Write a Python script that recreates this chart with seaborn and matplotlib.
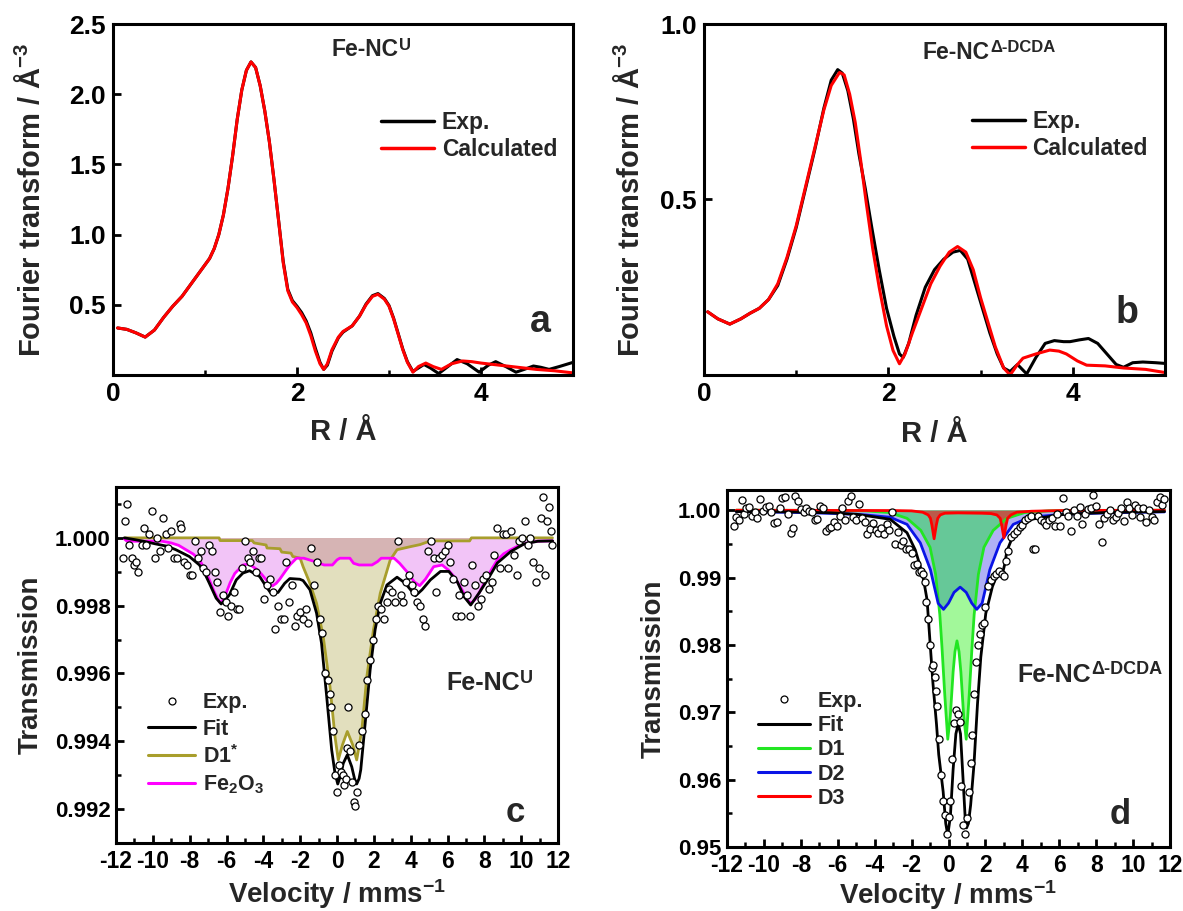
import matplotlib
matplotlib.use("Agg")
import matplotlib.pyplot as plt
import seaborn as sns
from matplotlib.lines import Line2D
from matplotlib.ticker import MultipleLocator, FixedLocator, FormatStrFormatter

# ---------------- Panel a (Fe-NC^U EXAFS) ----------------
ra_exp = [0.05,0.15,0.25,0.35,0.45,0.55,0.65,0.75,0.85,0.95,1.05,1.10,1.15,1.20,1.25,1.30,1.35,1.40,1.45,1.50,
          1.55,1.60,1.65,1.70,1.75,1.80,1.85,1.90,1.95,2.00,2.05,2.10,2.15,2.20,2.25,2.29,2.33,2.38,2.45,2.50,
          2.60,2.68,2.75,2.82,2.88,2.95,3.00,3.05,3.10,3.15,3.20,3.26,3.32,3.38,3.45,3.54,3.62,3.74,3.85,3.98,
          4.08,4.16,4.27,4.38,4.47,4.57,4.65,4.74,4.85,5.00]
fa_exp = [0.335,0.325,0.300,0.270,0.320,0.410,0.490,0.560,0.650,0.740,0.830,0.900,1.000,1.140,1.330,1.560,1.820,2.030,2.170,2.230,
          2.190,2.060,1.880,1.660,1.390,1.100,0.810,0.610,0.530,0.490,0.445,0.385,0.300,0.190,0.090,0.040,0.070,0.170,0.265,0.305,
          0.350,0.420,0.505,0.565,0.580,0.545,0.495,0.405,0.295,0.185,0.095,0.025,0.050,0.075,0.050,0.010,0.050,0.110,0.080,0.020,
          0.070,0.095,0.060,0.020,0.040,0.064,0.055,0.040,0.060,0.090]
ra_calc = [0.05,0.15,0.25,0.35,0.45,0.55,0.65,0.75,0.85,0.95,1.05,1.10,1.15,1.20,1.25,1.30,1.35,1.40,1.45,1.50,
           1.55,1.60,1.65,1.70,1.75,1.80,1.85,1.90,1.95,2.00,2.05,2.10,2.15,2.20,2.25,2.29,2.33,2.38,2.45,2.50,
           2.60,2.68,2.75,2.82,2.88,2.95,3.00,3.05,3.10,3.15,3.20,3.26,3.32,3.40,3.48,3.57,3.68,3.80,3.90,4.00,
           4.20,4.40,4.60,4.80,5.00]
fa_calc = [0.335,0.325,0.300,0.270,0.320,0.410,0.490,0.560,0.650,0.740,0.830,0.900,1.000,1.140,1.330,1.560,1.820,2.030,2.170,2.230,
           2.190,2.060,1.880,1.660,1.390,1.100,0.800,0.600,0.520,0.480,0.430,0.370,0.280,0.170,0.080,0.040,0.080,0.180,0.270,0.310,
           0.350,0.420,0.500,0.560,0.575,0.540,0.490,0.400,0.290,0.180,0.090,0.020,0.060,0.085,0.060,0.040,0.080,0.100,0.095,0.085,
           0.070,0.055,0.040,0.030,0.015]

# ---------------- Panel b (Fe-NC^Δ-DCDA EXAFS) ----------------
rb_exp = [0.04,0.15,0.28,0.40,0.50,0.60,0.70,0.80,0.90,1.00,1.10,1.20,1.30,1.38,1.45,1.50,1.56,1.62,1.68,1.75,
          1.82,1.90,1.98,2.06,2.12,2.16,2.22,2.30,2.40,2.50,2.60,2.70,2.78,2.86,2.94,3.02,3.10,3.18,3.25,3.32,
          3.40,3.50,3.60,3.70,3.80,3.90,3.97,4.07,4.17,4.27,4.37,4.47,4.55,4.65,4.76,4.90,5.00]
fb_exp = [0.180,0.160,0.145,0.160,0.176,0.190,0.215,0.255,0.330,0.420,0.530,0.640,0.760,0.840,0.870,0.860,0.810,0.730,0.630,0.530,
          0.420,0.300,0.190,0.110,0.060,0.050,0.090,0.170,0.250,0.300,0.330,0.350,0.355,0.330,0.260,0.190,0.120,0.060,0.020,0.010,
          0.030,0.003,0.050,0.090,0.098,0.095,0.095,0.100,0.104,0.090,0.060,0.030,0.022,0.035,0.037,0.035,0.033]
rb_calc = [0.04,0.15,0.28,0.40,0.50,0.60,0.70,0.80,0.90,1.00,1.10,1.20,1.30,1.38,1.47,1.52,1.58,1.64,1.70,1.76,
           1.83,1.90,1.98,2.05,2.12,2.18,2.26,2.36,2.46,2.56,2.66,2.75,2.84,2.92,3.00,3.08,3.16,3.25,3.32,3.40,
           3.46,3.60,3.75,3.85,3.93,4.05,4.15,4.35,4.55,4.79,5.00]
fb_calc = [0.180,0.160,0.145,0.160,0.176,0.190,0.215,0.260,0.335,0.425,0.535,0.645,0.755,0.825,0.862,0.855,0.800,0.720,0.610,0.490,
           0.360,0.250,0.140,0.070,0.032,0.060,0.120,0.190,0.260,0.310,0.350,0.366,0.350,0.300,0.220,0.150,0.080,0.020,0.000,0.030,
           0.048,0.060,0.071,0.068,0.060,0.040,0.028,0.026,0.020,0.016,0.007]

# ---------------- Panel c (Fe-NC^U Mossbauer) ----------------
vc_pts = [-11.6,-11.5,-11.4,-11.3,-11.15,-11.0,-10.9,-10.8,-10.6,-10.5,-10.35,-10.2,-10.05,-9.9,-9.75,-9.6,-9.45,-9.3,-9.15,-9.0,
          -8.85,-8.7,-8.55,-8.45,-8.3,-8.15,-8.0,-7.85,-7.7,-7.55,-7.4,-7.25,-7.1,-6.95,-6.8,-6.65,-6.5,-6.35,-6.2,-6.05,
          -5.9,-5.75,-5.6,-5.45,-5.3,-5.15,-5.0,-4.85,-4.7,-4.55,-4.4,-4.25,-4.1,-3.95,-3.8,-3.65,-3.5,-3.35,-3.2,-3.05,
          -2.9,-2.75,-2.6,-2.45,-2.3,-2.15,-2.0,-1.85,-1.7,-1.55,-1.4,-1.25,-1.1,-0.95,-0.8,-0.65,-0.5,-0.4,-0.3,-0.2,
          -0.1,0.0,0.1,0.2,0.3,0.4,0.5,0.55,0.6,0.7,0.8,0.9,1.0,1.1,1.2,1.35,1.5,1.65,1.8,1.95,
          2.1,2.25,2.4,2.55,2.7,2.85,3.0,3.15,3.3,3.45,3.6,3.75,3.9,4.05,4.2,4.35,4.5,4.65,4.8,4.95,
          5.1,5.25,5.4,5.55,5.7,5.85,6.0,6.15,6.3,6.45,6.6,6.75,6.9,7.05,7.2,7.35,7.5,7.65,7.8,7.95,
          8.1,8.25,8.4,8.55,8.7,8.85,9.0,9.15,9.3,9.45,9.6,9.75,9.9,10.05,10.2,10.35,10.5,10.65,10.8,10.95,
          11.1,11.2,11.3,11.4,11.5,11.6,11.7]
tc_pts = [0.99940,1.00050,1.00100,0.99980,0.99940,0.99920,0.99930,0.99900,0.99980,1.00030,0.99980,1.00010,1.00080,0.99940,1.00000,0.99960,1.00060,1.00010,0.99970,1.00020,
          0.99940,0.99940,1.00040,1.00030,0.99930,0.99920,0.99890,0.99890,0.99990,0.99940,0.99960,0.99910,0.99900,0.99980,0.99960,0.99900,0.99870,0.99780,0.99830,0.99810,
          0.99770,0.99800,0.99840,0.99790,0.99790,0.99910,0.99990,0.99940,0.99930,0.99960,0.99900,0.99940,0.99940,0.99820,0.99860,0.99880,0.99840,0.99730,0.99800,0.99760,
          0.99760,0.99930,0.99810,0.99860,0.99740,0.99770,0.99780,0.99760,0.99790,0.99750,0.99970,0.99860,0.99930,0.99760,0.99720,0.99600,0.99580,0.99540,0.99500,0.99430,
          0.99300,0.99250,0.99330,0.99310,0.99300,0.99270,0.99290,0.99380,0.99500,0.99370,0.99280,0.99220,0.99210,0.99250,0.99390,0.99430,0.99480,0.99580,0.99640,0.99700,
          0.99760,0.99800,0.99790,0.99760,0.99810,0.99850,0.99840,0.99810,0.99990,0.99830,0.99810,0.99870,0.99890,0.99860,0.99840,0.99810,0.99800,0.99760,0.99740,0.99960,
          0.99990,0.99940,0.99840,0.99940,0.99950,0.99960,0.99980,0.99930,0.99880,0.99770,0.99830,0.99770,0.99870,0.99830,0.99770,0.99920,0.99860,0.99800,0.99820,0.99880,
          0.99890,0.99850,0.99870,0.99950,1.00030,0.99910,1.00010,1.00010,0.99910,1.00020,0.99950,0.99890,0.99990,1.00000,1.00050,0.99980,1.00000,0.99930,0.99870,0.99910,
          1.00060,1.00120,0.99890,1.00050,1.00090,1.00020,0.99980]
vc_fit = [-11.55,-11.0,-10.5,-9.84,-9.2,-8.75,-8.02,-7.47,-7.2,-6.93,-6.56,-6.29,-6.05,-5.84,-5.47,-5.11,-4.75,-4.2,-3.84,-3.62,
          -3.2,-2.84,-2.56,-2.02,-1.84,-1.47,-1.11,-0.84,-0.56,-0.29,-0.11,0.04,0.2,0.34,0.56,0.8,0.95,1.07,1.2,1.29,
          1.53,1.8,2.07,2.35,2.71,3.26,3.71,4.26,4.62,5.07,5.62,6.07,6.53,6.89,7.26,7.71,8.17,8.71,9.44,10.16,
          10.9,11.71]
tc_fit = [1.0,0.99995,0.99990,0.99982,0.99975,0.99965,0.99945,0.99920,0.99897,0.99866,0.99822,0.99805,0.99818,0.99832,0.99876,0.99896,0.99903,0.99886,0.99856,0.99839,
          0.99839,0.99866,0.99880,0.99878,0.99874,0.99847,0.99778,0.99689,0.99532,0.99375,0.99306,0.99274,0.99300,0.99335,0.99360,0.99325,0.99290,0.99274,0.99290,0.99316,
          0.99453,0.99611,0.99729,0.99807,0.99861,0.99884,0.99866,0.99829,0.99847,0.99876,0.99901,0.99901,0.99871,0.99827,0.99802,0.99837,0.99876,0.99926,0.99960,0.99982,
          0.99990,0.99991]
vc_d1 = [-11.5,-6.4,-6.35,-4.6,-4.5,-3.85,-3.8,-3.1,-3.0,-2.5,-2.4,-2.0,-1.84,-1.5,-1.11,-0.75,-0.38,-0.11,0.07,0.3,
         0.56,0.85,1.07,1.35,1.62,1.98,2.35,2.89,3.26,3.98,4.5,5.07,7.2,7.3,11.7]
tc_d1 = [1.0,1.0,0.99992,0.99992,0.99985,0.99979,0.99970,0.99968,0.99958,0.99955,0.99945,0.99940,0.99915,0.99870,0.99807,0.99709,0.99561,0.99414,0.99345,0.99390,
         0.99429,0.99390,0.99345,0.99434,0.99591,0.99729,0.99837,0.99935,0.99965,0.99974,0.99980,0.99991,0.99991,1.0,1.0]
vc_fe = [-11.55,-11.4,-9.5,-9.0,-8.6,-8.2,-7.8,-7.47,-7.2,-6.93,-6.7,-6.5,-6.35,-6.2,-6.02,-5.8,-5.55,-5.11,-4.78,-4.38,
         -4.1,-3.84,-3.51,-3.3,-3.11,-2.8,-2.56,-2.2,-1.8,-1.2,-0.7,-0.25,0.0,0.15,0.7,0.9,1.2,1.9,2.2,2.4,
         3.1,3.4,3.8,4.2,4.49,4.8,5.25,5.71,6.05,6.35,6.65,6.89,7.1,7.29,7.5,7.71,7.95,8.17,8.45,8.71,
         9.05,9.44,9.8,10.16,10.5,10.9,11.71]
tc_fe = [0.99997,0.99990,0.99990,0.99985,0.99978,0.99965,0.99952,0.99935,0.99910,0.99876,0.99845,0.99822,0.99809,0.99815,0.99837,0.99868,0.99895,0.99920,0.99923,0.99908,
         0.99893,0.99876,0.99858,0.99866,0.99878,0.99902,0.99920,0.99940,0.99940,0.99930,0.99920,0.99920,0.99935,0.99940,0.99940,0.99925,0.99920,0.99920,0.99930,0.99940,
         0.99940,0.99925,0.99900,0.99870,0.99859,0.99878,0.99915,0.99920,0.99905,0.99886,0.99860,0.99837,0.99815,0.99807,0.99818,0.99837,0.99862,0.99886,0.99912,0.99935,
         0.99953,0.99965,0.99975,0.99982,0.99987,0.99990,0.99991]

# ---------------- Panel d (Fe-NC^Δ-DCDA Mossbauer) ----------------
vd_pts = [-11.6,-11.5,-11.35,-11.2,-11.1,-10.95,-10.8,-10.65,-10.5,-10.35,-10.2,-10.05,-9.9,-9.75,-9.6,-9.45,-9.3,-9.15,-9.0,-8.85,
          -8.7,-8.55,-8.45,-8.3,-8.15,-8.0,-7.85,-7.7,-7.55,-7.4,-7.25,-7.1,-6.95,-6.8,-6.65,-6.5,-6.35,-6.2,-6.05,-5.9,
          -5.75,-5.6,-5.45,-5.3,-5.15,-5.0,-4.85,-4.7,-4.55,-4.4,-4.25,-4.1,-3.95,-3.8,-3.65,-3.5,-3.35,-3.2,-3.05,-2.9,
          -2.75,-2.6,-2.45,-2.3,-2.15,-2.0,-1.85,-1.7,-1.6,-1.5,-1.4,-1.3,-1.2,-1.1,-1.0,-0.9,-0.85,-0.75,-0.7,-0.6,
          -0.5,-0.4,-0.3,-0.2,-0.1,0.0,0.1,0.2,0.3,0.4,0.5,0.6,0.7,0.8,0.9,1.0,1.1,1.2,1.3,1.4,
          1.5,1.6,1.7,1.8,1.9,2.0,2.15,2.3,2.45,2.6,2.75,2.9,3.0,3.1,3.25,3.4,3.55,3.7,3.85,4.0,
          4.15,4.3,4.45,4.6,4.7,4.85,5.0,5.15,5.3,5.45,5.6,5.75,5.9,6.05,6.2,6.35,6.5,6.65,6.8,6.95,
          7.1,7.25,7.4,7.55,7.7,7.85,8.0,8.15,8.3,8.45,8.6,8.75,8.9,9.05,9.2,9.35,9.5,9.65,9.8,9.95,
          10.1,10.25,10.4,10.55,10.7,10.85,11.0,11.15,11.3,11.45,11.55,11.65]
td_pts = [0.9977,0.9990,0.9985,1.0015,0.9995,1.0003,1.0005,0.9992,0.9998,0.9988,1.0016,0.9999,1.0005,1.0006,0.9998,0.9981,0.9982,1.0004,1.0018,1.0019,
          0.9994,0.9966,0.9973,1.0021,1.0013,1.0002,0.9997,1.0004,0.9999,0.9997,0.9985,0.9987,1.0006,1.0003,0.9969,0.9974,0.9975,0.9983,0.9977,0.9992,
          1.0004,0.9985,1.0013,1.0021,0.9990,0.9986,1.0009,0.9988,0.9983,0.9965,0.9972,0.9981,0.9970,0.9966,0.9974,0.9964,0.9979,0.9970,0.9998,0.9950,
          0.9967,0.9948,0.9955,0.9942,0.9943,0.9937,0.9918,0.9920,0.9908,0.9910,0.9905,0.9893,0.9863,0.9838,0.9800,0.9765,0.9770,0.9753,0.9732,0.9710,
          0.9660,0.9607,0.9569,0.9548,0.9520,0.9545,0.9569,0.9630,0.9684,0.9703,0.9697,0.9686,0.9591,0.9533,0.9520,0.9543,0.9581,0.9625,0.9667,0.9727,
          0.9775,0.9800,0.9816,0.9829,0.9833,0.9857,0.9887,0.9897,0.9903,0.9905,0.9910,0.9906,0.9903,0.9925,0.9939,0.9960,0.9965,0.9969,0.9975,0.9978,
          0.9985,0.9988,0.9991,0.9942,0.9943,0.9991,0.9985,0.9983,0.9978,0.9986,0.9988,0.9976,0.9995,0.9977,1.0018,0.9997,0.9991,0.9969,1.0001,0.9992,
          1.0005,0.9979,0.9995,1.0002,1.0004,1.0022,1.0006,0.9980,0.9953,0.9988,0.9995,1.0001,0.9985,0.9990,0.9996,1.0004,0.9984,1.0012,1.0004,0.9993,
          1.0008,1.0003,0.9990,1.0003,0.9982,1.0000,0.9990,0.9985,1.0012,1.0019,1.0008,1.0016]
vd_fit = [-11.5,-8.6,-6.5,-4.98,-3.16,-2.25,-1.8,-1.53,-1.35,-1.16,-1.02,-0.84,-0.65,-0.53,-0.29,-0.15,-0.04,0.1,0.25,0.4,
          0.53,0.65,0.78,0.9,0.98,1.08,1.2,1.38,1.57,1.75,2.02,2.38,2.75,2.93,3.05,3.16,3.56,4.47,6.3,8.5,11.7]
td_fit = [0.9998,0.99975,0.99962,0.9994,0.99865,0.99666,0.9941,0.99166,0.98967,0.98668,0.98118,0.97421,0.96822,0.96373,0.95823,0.9535,0.95175,0.9545,0.9615,0.9668,
          0.96831,0.9668,0.9605,0.9545,0.95284,0.9535,0.95624,0.96223,0.97121,0.97819,0.98468,0.98867,0.99117,0.99067,0.9920,0.99391,0.99666,0.99865,0.9994,0.99965,
          0.9998]
vd_d1 = [-11.5,-6.5,-4.5,-3.2,-2.25,-1.5,-1.0,-0.7,-0.47,-0.35,-0.2,-0.04,0.1,0.25,0.35,0.46,0.57,0.67,0.82,0.96,
         1.12,1.27,1.39,1.62,1.92,2.42,3.17,4.12,5.42,7.42,11.7]
td_d1 = [1.0,0.99997,0.9999,0.99965,0.9988,0.9970,0.9945,0.9905,0.9845,0.9795,0.9725,0.966,0.9695,0.976,0.979,0.9806,0.979,0.976,0.9695,0.966,
         0.9725,0.9795,0.9845,0.9905,0.9945,0.9970,0.9988,0.99965,0.9999,0.99997,1.0]
vd_d2 = [-11.5,-8.0,-6.0,-4.5,-3.16,-2.25,-1.53,-0.98,-0.56,-0.27,0.0,0.3,0.63,0.96,1.26,1.53,1.82,2.24,2.79,3.51,
         4.42,5.8,7.3,9.3,11.7]
td_d2 = [0.9998,0.99965,0.9995,0.9993,0.99895,0.9979,0.99516,0.99117,0.98618,0.98528,0.9862,0.9878,0.98858,0.9878,0.9862,0.98528,0.98618,0.99117,0.99516,0.9979,
         0.99895,0.9993,0.9995,0.99965,0.99975]
vd_d3 = [-11.5,-3.0,-2.0,-1.4,-1.1,-0.98,-0.9,-0.78,-0.66,-0.58,-0.45,-0.2,0.5,1.8,2.3,2.62,2.8,2.88,3.0,3.12,
         3.2,3.38,3.7,4.5,6.0,11.7]
td_d3 = [1.0,0.99995,0.9999,0.9997,0.9993,0.9988,0.9978,0.99576,0.9978,0.9988,0.9993,0.99955,0.9996,0.99955,0.9995,0.9993,0.9988,0.9978,0.9959,0.9978,
         0.9988,0.9993,0.9997,0.99985,0.99995,1.0]

# ---------------- styling ----------------
sns.set_theme(style="ticks")
plt.rcParams["font.family"] = ["Liberation Sans", "DejaVu Sans"]
plt.rcParams["font.weight"] = "bold"
plt.rcParams["axes.labelweight"] = "bold"
plt.rcParams["axes.unicode_minus"] = False
plt.rcParams["mathtext.fontset"] = "custom"
plt.rcParams["mathtext.rm"] = "Liberation Sans:bold"
plt.rcParams["mathtext.bf"] = "Liberation Sans:bold"
plt.rcParams["mathtext.it"] = "Liberation Sans:bold"
plt.rcParams["mathtext.default"] = "rm"

W, H = 1183, 911
fig = plt.figure(figsize=(W / 100, H / 100), dpi=100)


def add_ax(l, r, t, b):
    return fig.add_axes([l / W, 1 - b / H, (r - l) / W, (b - t) / H])


ax_a = add_ax(113, 573, 24, 375)
ax_b = add_ax(704, 1165, 24, 375)
ax_c = add_ax(116, 558, 487, 843)
ax_d = add_ax(727, 1170, 490, 847)


def style(ax, xfs, yfs, lab_fs):
    for s in ax.spines.values():
        s.set_linewidth(2.2)
        s.set_color("black")
    ax.tick_params(which="both", direction="in", top=False, right=False, colors="black")
    ax.tick_params(which="major", length=6, width=2, pad=5)
    ax.tick_params(which="minor", length=3.5, width=1.8)
    ax.tick_params(axis="x", labelsize=xfs)
    ax.tick_params(axis="y", labelsize=yfs)
    for lab in ax.get_xticklabels() + ax.get_yticklabels():
        lab.set_fontweight("bold")
    ax.xaxis.label.set_size(lab_fs)
    ax.yaxis.label.set_size(lab_fs)


def sup_text(ax, x, y, base, sup, fs, sfs):
    t = ax.text(x, y, base, transform=ax.transAxes, fontsize=fs, fontweight="bold",
                ha="left", va="center")
    ax.annotate(sup, xy=(1.0, 0.52), xycoords=t, fontsize=sfs, fontweight="bold",
                ha="left", va="baseline")


RED = "#FF0000"

# ----- panel a -----
sns.lineplot(x=ra_exp, y=fa_exp, ax=ax_a, color="black", lw=2.2, sort=False, estimator=None)
sns.lineplot(x=ra_calc, y=fa_calc, ax=ax_a, color=RED, lw=2.2, sort=False, estimator=None)
ax_a.set_xlim(0, 5)
ax_a.set_ylim(0, 2.5)
ax_a.xaxis.set_major_locator(FixedLocator([0, 2, 4]))
ax_a.xaxis.set_minor_locator(FixedLocator([1, 3]))
ax_a.yaxis.set_major_locator(FixedLocator([0.5, 1.0, 1.5, 2.0, 2.5]))
ax_a.set_xlabel("R / Å", labelpad=9)
ax_a.set_ylabel(r"Fourier transform / Å$^{-3}$", labelpad=17)
style(ax_a, 19, 19, 21)
sup_text(ax_a, 0.476, 0.926, "Fe-NC", "U", 16.5, 12)
ax_a.text(0.928, 0.151, "a", transform=ax_a.transAxes, fontsize=27, fontweight="bold",
          ha="center", va="center")
ha = [Line2D([], [], color="black", lw=2.5), Line2D([], [], color=RED, lw=2.5)]
ax_a.legend(ha, ["Exp.", "Calculated"], loc="center left", bbox_to_anchor=(0.583, 0.681),
            frameon=False, fontsize=16.5, handlelength=2.3, handletextpad=0.35,
            labelspacing=0.2, borderpad=0, borderaxespad=0)

# ----- panel b -----
sns.lineplot(x=rb_exp, y=fb_exp, ax=ax_b, color="black", lw=2.2, sort=False, estimator=None)
sns.lineplot(x=rb_calc, y=fb_calc, ax=ax_b, color=RED, lw=2.2, sort=False, estimator=None)
ax_b.set_xlim(0, 5)
ax_b.set_ylim(0, 1.0)
ax_b.xaxis.set_major_locator(FixedLocator([0, 2, 4]))
ax_b.xaxis.set_minor_locator(FixedLocator([1, 3]))
ax_b.yaxis.set_major_locator(FixedLocator([0.5, 1.0]))
ax_b.set_xlabel("R / Å", labelpad=10)
ax_b.set_ylabel(r"Fourier transform / Å$^{-3}$", labelpad=11)
style(ax_b, 19, 19, 21)
sup_text(ax_b, 0.475, 0.920, "Fe-NC", "Δ-DCDA", 16.5, 12)
ax_b.text(0.918, 0.177, "b", transform=ax_b.transAxes, fontsize=27, fontweight="bold",
          ha="center", va="center")
ax_b.legend(ha, ["Exp.", "Calculated"], loc="center left", bbox_to_anchor=(0.581, 0.684),
            frameon=False, fontsize=16.5, handlelength=2.3, handletextpad=0.35,
            labelspacing=0.2, borderpad=0, borderaxespad=0)

# ----- panel c -----
OLIVE = "#A89E2C"
MAG = "#FF00FF"
p_pink = ax_c.fill_between(vc_fe, 1.0, tc_fe, color="#F2C4F7", lw=0, zorder=1)
ax_c.fill_between(vc_d1, 1.0, tc_d1, color="#E2DFBE", lw=0, zorder=1.1)
p_brown = ax_c.fill_between(vc_d1, 1.0, tc_d1, color="#D6B4B4", lw=0, zorder=1.2)
p_brown.set_clip_path(p_pink.get_paths()[0], ax_c.transData)
sns.lineplot(x=vc_d1, y=tc_d1, ax=ax_c, color=OLIVE, lw=2.0, sort=False, estimator=None, zorder=3)
sns.lineplot(x=vc_fe, y=tc_fe, ax=ax_c, color=MAG, lw=2.0, sort=False, estimator=None, zorder=3.1)
sns.lineplot(x=vc_fit, y=tc_fit, ax=ax_c, color="black", lw=2.0, sort=False, estimator=None, zorder=3.2)
sns.scatterplot(x=vc_pts, y=tc_pts, ax=ax_c, marker="o", s=26, color="white",
                edgecolor="black", linewidth=0.9, zorder=4)
ax_c.set_xlim(-12, 12)
ax_c.set_ylim(0.991, 1.0015)
ax_c.xaxis.set_major_locator(MultipleLocator(2))
ax_c.xaxis.set_minor_locator(MultipleLocator(1))
ax_c.yaxis.set_major_locator(FixedLocator([0.992, 0.994, 0.996, 0.998, 1.000]))
ax_c.yaxis.set_minor_locator(FixedLocator([0.991, 0.993, 0.995, 0.997, 0.999, 1.001]))
ax_c.yaxis.set_major_formatter(FormatStrFormatter("%.3f"))
ax_c.set_xlabel(r"Velocity / mms$^{-1}$", labelpad=3)
ax_c.set_ylabel("Transmission", labelpad=8)
style(ax_c, 16.5, 16, 20)
ax_c.tick_params(axis="y", pad=4)
sup_text(ax_c, 0.747, 0.449, "Fe-NC", "U", 18, 13)
ax_c.text(0.903, 0.087, "c", transform=ax_c.transAxes, fontsize=25, fontweight="bold",
          ha="center", va="center")
hc = [Line2D([], [], marker="o", ls="none", mfc="white", mec="black", ms=5, mew=0.9),
      Line2D([], [], color="black", lw=2.2),
      Line2D([], [], color=OLIVE, lw=2.2),
      Line2D([], [], color=MAG, lw=2.2)]
ax_c.legend(hc, ["Exp.", "Fit", r"D1$^{*}$", r"Fe$_{2}$O$_{3}$"], loc="center left",
            bbox_to_anchor=(0.072, 0.278), frameon=False, fontsize=15.5, handlelength=2.2,
            handletextpad=0.35, labelspacing=0.25, borderpad=0, borderaxespad=0)

# ----- panel d -----
GREEN = "#22E622"
BLUE = "#0A14E6"
p_blue = ax_d.fill_between(vd_d2, 1.0, td_d2, color="#B0B0F5", lw=0, zorder=1)
ax_d.fill_between(vd_d1, 1.0, td_d1, color="#A2F89A", lw=0, zorder=1.1)
p_teal = ax_d.fill_between(vd_d1, 1.0, td_d1, color="#66C898", lw=0, zorder=1.2)
p_teal.set_clip_path(p_blue.get_paths()[0], ax_d.transData)
ax_d.fill_between(vd_d3, 1.0, td_d3, color="#BB5A4A", lw=0, zorder=1.3)
sns.lineplot(x=vd_d1, y=td_d1, ax=ax_d, color=GREEN, lw=2.0, sort=False, estimator=None, zorder=3)
sns.lineplot(x=vd_d2, y=td_d2, ax=ax_d, color=BLUE, lw=2.0, sort=False, estimator=None, zorder=3.1)
sns.lineplot(x=vd_d3, y=td_d3, ax=ax_d, color=RED, lw=2.0, sort=False, estimator=None, zorder=3.2)
sns.lineplot(x=vd_fit, y=td_fit, ax=ax_d, color="black", lw=2.0, sort=False, estimator=None, zorder=3.3)
sns.scatterplot(x=vd_pts, y=td_pts, ax=ax_d, marker="o", s=26, color="white",
                edgecolor="black", linewidth=0.9, zorder=4)
ax_d.set_xlim(-12, 12)
ax_d.set_ylim(0.95, 1.003)
ax_d.xaxis.set_major_locator(MultipleLocator(2))
ax_d.xaxis.set_minor_locator(MultipleLocator(1))
ax_d.yaxis.set_major_locator(FixedLocator([0.95, 0.96, 0.97, 0.98, 0.99, 1.00]))
ax_d.yaxis.set_minor_locator(FixedLocator([0.955, 0.965, 0.975, 0.985, 0.995]))
ax_d.yaxis.set_major_formatter(FormatStrFormatter("%.2f"))
ax_d.set_xlabel(r"Velocity / mms$^{-1}$", labelpad=1)
ax_d.set_ylabel("Transmission", labelpad=8)
style(ax_d, 16.5, 16, 20)
ax_d.tick_params(axis="y", pad=4)
sup_text(ax_d, 0.655, 0.482, "Fe-NC", "Δ-DCDA", 18, 13)
ax_d.text(0.887, 0.090, "d", transform=ax_d.transAxes, fontsize=25, fontweight="bold",
          ha="center", va="center")
hd = [Line2D([], [], marker="o", ls="none", mfc="white", mec="black", ms=5, mew=0.9),
      Line2D([], [], color="black", lw=2.2),
      Line2D([], [], color=GREEN, lw=2.2),
      Line2D([], [], color=BLUE, lw=2.2),
      Line2D([], [], color=RED, lw=2.2)]
ax_d.legend(hd, ["Exp.", "Fit", "D1", "D2", "D3"], loc="center left",
            bbox_to_anchor=(0.070, 0.272), frameon=False, fontsize=15.5, handlelength=2.4,
            handletextpad=0.35, labelspacing=0.15, borderpad=0, borderaxespad=0)

fig.savefig("out.png", dpi=100)
